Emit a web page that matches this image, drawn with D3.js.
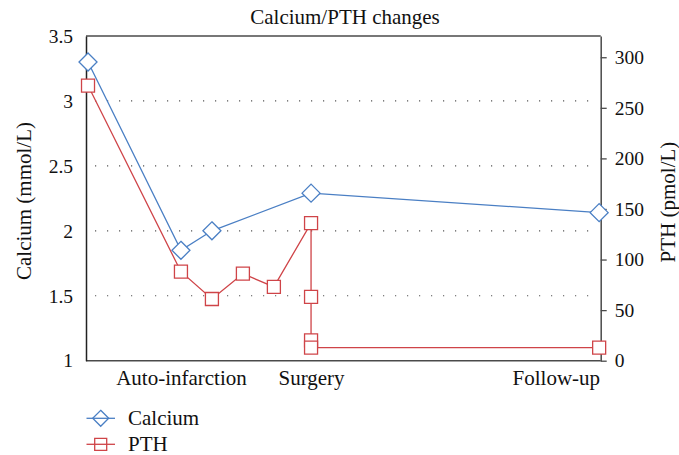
<!DOCTYPE html>
<html>
<head>
<meta charset="utf-8">
<script src="https://cdn.jsdelivr.net/npm/d3@7"></script>
<style>
  body { margin: 0; background: #fff; }
  svg text { font-family: "Liberation Serif", "Times New Roman", "DejaVu Serif", serif !important; fill: #111; }
</style>
</head>
<body>
<svg id="chart" width="679" height="455"></svg>
<script>
//////////////////////////////////////////////////////////////////////////////////////////
// Data
//////////////////////////////////////////////////////////////////////////////////////////
var calcium_t = [0, 3, 4, 7.2, 16.5]
var calcium = [3.30, 1.85, 2.00, 2.29, 2.14]

var pth_t = [0, 3, 4, 5, 6, 7.2, 7.2, 7.2, 7.2, 16.5]
var pth = [272, 88, 61, 86, 73, 136, 63, 20, 13, 13]

var phase_labels = ['Auto-infarction', 'Surgery', 'Follow-up']
var phase_t = [3, 7.2, 15.1]

var calcium_ticks = [1, 1.5, 2, 2.5, 3, 3.5]
var calcium_grid = [1.5, 2, 2.5, 3]
var pth_ticks = [0, 50, 100, 150, 200, 250, 300]

//////////////////////////////////////////////////////////////////////////////////////////
// Layout
//////////////////////////////////////////////////////////////////////////////////////////
var plot = { left: 86, right: 600.7, top: 36, bottom: 360.7 }
var colors = { calcium: '#4a7fc4', pth: '#cf4448', frame: '#4a4a4a' }
var serif = '"Liberation Serif", "Times New Roman", serif'
var tick_size = 19.5
var label_size = 21

var x = d3.scaleLinear().domain([-0.065, 16.55]).range([plot.left, plot.right])
var y_left = d3.scaleLinear().domain([1, 3.5]).range([plot.bottom, plot.top])
var y_right = d3.scaleLinear().domain([0, 321]).range([plot.bottom, plot.top])

var svg = d3.select('#chart')

draw_grid()
draw_frame()
draw_axes()
draw_series('calcium', calcium_t, calcium, y_left, diamond)
draw_series('pth', pth_t, pth, y_right, square)
draw_titles()
draw_legend()

svg.selectAll('text').attr('font-family', serif).style('font-family', serif)

//////////////////////////////////////////////////////////////////////////////////////////
// Functions
//////////////////////////////////////////////////////////////////////////////////////////
function diamond(size) {
  var h = size / 2
  return 'M0,' + (-h) + 'L' + h + ',0L0,' + h + 'L' + (-h) + ',0Z'
}

function square(size) {
  var h = size / 2
  return 'M' + (-h) + ',' + (-h) + 'h' + size + 'v' + size + 'h' + (-size) + 'Z'
}

function draw_grid() {
  svg.append('g')
    .selectAll('line')
    .data(calcium_grid)
    .enter()
    .append('line')
    .attr('x1', plot.left + 9)
    .attr('x2', plot.right - 2)
    .attr('y1', function(d) { return y_left(d) })
    .attr('y2', function(d) { return y_left(d) })
    .attr('stroke', '#555')
    .attr('stroke-width', 1.2)
    .attr('stroke-dasharray', '1.2,10.8')
}

function draw_frame() {
  svg.append('line')
    .attr('x1', plot.left).attr('x2', plot.right)
    .attr('y1', plot.top).attr('y2', plot.top)
    .attr('stroke', colors.frame).attr('stroke-width', 1.5)
  svg.append('line')
    .attr('x1', plot.left).attr('x2', plot.right)
    .attr('y1', plot.bottom).attr('y2', plot.bottom)
    .attr('stroke', colors.frame).attr('stroke-width', 1.5)
}

function draw_axes() {
  var left = svg.append('g')
    .attr('transform', 'translate(' + plot.left + ',0)')
    .call(d3.axisLeft(y_left).tickValues(calcium_ticks).tickSize(0).tickPadding(13)
      .tickFormat(d3.format('')))
  left.attr('font-family', null)
  left.select('.domain').attr('stroke', '#222').attr('stroke-width', 1.5)
  left.selectAll('text').attr('font-size', tick_size)

  var right = svg.append('g')
    .attr('transform', 'translate(' + plot.right + ',0)')
    .call(d3.axisRight(y_right).tickValues(pth_ticks).tickSize(6).tickSizeOuter(0).tickPadding(8))
  right.attr('font-family', null)
  right.select('.domain').attr('stroke', colors.frame).attr('stroke-width', 1.5)
  right.selectAll('.tick line').attr('stroke', colors.frame).attr('stroke-width', 1.3)
  right.selectAll('text').attr('font-size', tick_size)

  var bottom = svg.append('g')
    .attr('transform', 'translate(0,' + plot.bottom + ')')
    .call(d3.axisBottom(x).tickValues(phase_t).tickSize(0).tickPadding(9)
      .tickFormat(function(d, i) { return phase_labels[i] }))
  bottom.attr('font-family', null)
  bottom.select('.domain').remove()
  bottom.selectAll('text').attr('font-size', label_size)
}

function draw_series(name, ts, values, y, shape) {
  var points = ts.map(function(t, i) { return [x(t), y(values[i])] })
  var g = svg.append('g').attr('id', 'g-' + name)

  g.append('path')
    .attr('d', d3.line()(points))
    .attr('fill', 'none')
    .attr('stroke', colors[name])
    .attr('stroke-width', 1.3)

  g.selectAll('marker')
    .data(points)
    .enter()
    .append('path')
    .attr('d', shape(name == 'calcium' ? 18 : 13))
    .attr('transform', function(d) { return 'translate(' + d[0] + ',' + d[1] + ')' })
    .attr('fill', '#fff')
    .attr('stroke', colors[name])
    .attr('stroke-width', 1.3)
}

function draw_titles() {
  svg.append('text')
    .attr('x', 345)
    .attr('y', 24)
    .attr('text-anchor', 'middle')
    .attr('font-size', label_size)
    .text('Calcium/PTH changes')

  svg.append('text')
    .attr('transform', 'translate(31,201) rotate(-90)')
    .attr('text-anchor', 'middle')
    .attr('font-size', label_size)
    .text('Calcium (mmol/L)')

  svg.append('text')
    .attr('transform', 'translate(675,202) rotate(-90)')
    .attr('text-anchor', 'middle')
    .attr('font-size', label_size)
    .text('PTH (pmol/L)')
}

function draw_legend() {
  var items = [
    { name: 'calcium', label: 'Calcium', shape: diamond, size: 16, y: 418.3 },
    { name: 'pth', label: 'PTH', shape: square, size: 12, y: 444.3 }
  ]
  var g = svg.append('g').attr('id', 'g-legend')
    .selectAll('item')
    .data(items)
    .enter()
    .append('g')
    .attr('transform', function(d) { return 'translate(0,' + d.y + ')' })

  g.append('line')
    .attr('x1', 86.5).attr('x2', 115)
    .attr('stroke', function(d) { return colors[d.name] })
    .attr('stroke-width', 1.3)

  g.append('path')
    .attr('d', function(d) { return d.shape(d.size) })
    .attr('transform', 'translate(100.7,0)')
    .attr('fill', 'none')
    .attr('stroke', function(d) { return colors[d.name] })
    .attr('stroke-width', 1.3)

  g.append('text')
    .attr('x', 128)
    .attr('y', 6.5)
    .attr('font-size', label_size)
    .text(function(d) { return d.label })
}
</script>
</body>
</html>
